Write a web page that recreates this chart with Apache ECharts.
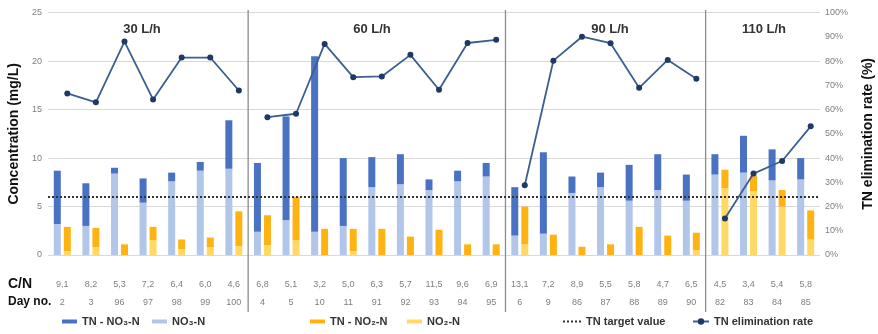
<!DOCTYPE html>
<html>
<head>
<meta charset="utf-8">
<script src="https://cdn.jsdelivr.net/npm/echarts@6/dist/echarts.min.js"></script>
<style>html,body{margin:0;padding:0;background:#fff}#c{width:878px;height:334px}</style>
</head>
<body>
<div id="c"></div>
<script>
// ---- data ----
const days = ['2','3','96','97','98','99','100','4','5','10','11','91','92','93','94','95','6','9','86','87','88','89','90','82','83','84','85'];
const cnRatio = ['9,1','8,2','5,3','7,2','6,4','6,0','4,6','6,8','5,1','3,2','5,0','6,3','5,7','11,5','9,6','6,9','13,1','7,2','8,9','5,5','5,8','4,7','6,5','4,5','3,4','5,4','5,8'];
const section = [0,0,0,0,0,0,0,1,1,1,1,1,1,1,1,1,2,2,2,2,2,2,2,3,3,3,3];
const sectionNames = ['30 L/h','60 L/h','90 L/h','110 L/h'];
const no3 = [3.2,3.0,8.4,5.4,7.6,8.7,8.9,2.4,3.6,2.4,3.0,7.0,7.3,6.7,7.6,8.1,2.0,2.2,6.4,7.0,5.6,6.7,5.6,8.3,8.5,7.7,7.8];
const tnMinusNo3 = [5.5,4.4,0.6,2.5,0.9,0.9,5.0,7.1,10.7,18.1,7.0,3.1,3.1,1.1,1.1,1.4,5.0,8.4,1.7,1.5,3.7,3.7,2.7,2.1,3.8,3.2,2.2];
const no2 = [0.4,0.8,0,1.5,0.6,0.8,0.9,1.0,1.5,0,0.4,0,0,0,0,0,1.1,0,0,0,0,0,0.5,6.9,6.6,5.0,1.6];
const tnMinusNo2 = [2.5,2.0,1.1,1.4,1.0,1.0,3.6,3.1,4.5,2.7,2.3,2.7,1.9,2.6,1.1,1.1,3.9,2.1,0.85,1.1,2.9,2.0,1.8,1.9,1.6,1.7,3.0];
const elimRate = [66.7,63.0,88.1,64.2,81.5,81.5,67.9,56.9,58.3,87.1,73.4,73.7,82.6,68.2,87.5,88.8,28.8,80.2,90.1,87.4,69.0,80.5,72.7,15.1,33.6,38.8,53.1];
const tnTarget = 6;

const C_DARKBLUE = '#4a72c2', C_LIGHTBLUE = '#b2c6e9', C_ORANGE = '#ffb312', C_YELLOW = '#ffd966';
const C_LINE = '#3b5f8f', C_MARK = '#1f3864';
const FONT = 'Liberation Sans';

const chart = echarts.init(document.getElementById('c'));

const rateSeries = sectionNames.map((s, k) => ({
  name: 'TN elimination rate', type: 'line', xAxisIndex: 1, yAxisIndex: 2,
  data: elimRate.map((v, i) => section[i] === k ? v : null),
  connectNulls: false, symbol: 'circle', symbolSize: 6,
  lineStyle: { color: C_LINE, width: 1.8 }, itemStyle: { color: C_MARK }, z: 5
}));

const legendText = { fontFamily: FONT, fontWeight: 'bold', fontSize: 11, color: '#333' };
function lg(left, extra) {
  return Object.assign({ left: left, top: 316, itemGap: 4, textStyle: legendText,
    itemWidth: 15, itemHeight: 4, selectedMode: false, padding: 0 }, extra || {});
}
const dotsIcon = 'path://M0,0h2v2h-2zM4,0h2v2h-2zM8,0h2v2h-2zM12,0h2v2h-2zM16,0h2v2h-2z';

const option = {
  animation: false,
  textStyle: { fontFamily: FONT },
  title: sectionNames.map((s, k) => ({
    text: s, left: [142, 372, 610, 764][k], top: 23, textAlign: 'center',
    textStyle: { fontFamily: FONT, fontWeight: 'bold', fontSize: 13, color: '#333' }, padding: 0
  })),
  grid: [
    { left: 48, right: 58, top: 12.7, bottom: 79, outerBoundsMode: 'none', containLabel: false },
    { left: 53, right: 53, top: 12.7, bottom: 79, outerBoundsMode: 'none', containLabel: false }
  ],
  legend: [
    lg(62, { data: [{ name: 'TN - NO₃-N', icon: 'rect' }] }),
    lg(152, { data: [{ name: 'NO₃-N', icon: 'rect' }] }),
    lg(310, { data: [{ name: 'TN - NO₂-N', icon: 'rect' }] }),
    lg(407, { data: [{ name: 'NO₂-N', icon: 'rect' }] }),
    lg(563, { data: [{ name: 'TN target value', icon: dotsIcon }], itemWidth: 18, itemHeight: 2, itemStyle: { color: '#333' } }),
    lg(692, { data: ['TN elimination rate'], itemWidth: 16, itemHeight: 8 })
  ],
  xAxis: [
    { type: 'category', gridIndex: 0, data: days, axisLine: { show: false }, axisTick: { show: false },
      axisLabel: { interval: 0, margin: 21, color: '#7f7f7f', fontSize: 9, lineHeight: 18,
        formatter: (v, i) => cnRatio[i] + '\n' + v } },
    { type: 'category', gridIndex: 1, data: days, show: false }
  ],
  yAxis: [
    { type: 'value', gridIndex: 0, min: 0, max: 25, interval: 5, position: 'left',
      axisLine: { show: false }, axisTick: { show: false },
      axisLabel: { color: '#7f7f7f', fontSize: 9, margin: 6 },
      splitLine: { lineStyle: { color: '#d9d9d9', width: 1 } },
      name: 'Concentration (mg/L)', nameLocation: 'middle', nameGap: 24, nameRotate: 90,
      nameTextStyle: { fontFamily: FONT, fontWeight: 'bold', fontSize: 14, color: '#111' } },
    { type: 'value', gridIndex: 0, min: 0, max: 100, interval: 10, position: 'right',
      axisLine: { show: false }, axisTick: { show: false }, splitLine: { show: false },
      axisLabel: { color: '#7f7f7f', fontSize: 9, margin: 5, formatter: '{value}%' },
      name: 'TN elimination rate (%)', nameLocation: 'middle', nameGap: 41, nameRotate: 90,
      nameTextStyle: { fontFamily: FONT, fontWeight: 'bold', fontSize: 14, color: '#111' } },
    { type: 'value', gridIndex: 1, min: 0, max: 100, show: false }
  ],
  series: [
    { name: 'NO₃-N', type: 'bar', stack: 'n3', data: no3, barWidth: 7, barGap: '43%',
      itemStyle: { color: C_LIGHTBLUE } },
    { name: 'TN - NO₃-N', type: 'bar', stack: 'n3', data: tnMinusNo3, barWidth: 7,
      itemStyle: { color: C_DARKBLUE } },
    { name: 'NO₂-N', type: 'bar', stack: 'n2', data: no2, barWidth: 7,
      itemStyle: { color: C_YELLOW } },
    { name: 'TN - NO₂-N', type: 'bar', stack: 'n2', data: tnMinusNo2, barWidth: 7,
      itemStyle: { color: C_ORANGE } },
    { name: 'TN target value', type: 'line', data: [], symbol: 'none',
      lineStyle: { color: '#333', width: 2, type: [2, 2] }, itemStyle: { color: '#333' },
      markLine: { silent: true, symbol: 'none', label: { show: false },
        lineStyle: { color: '#333', width: 2, type: [2, 2] }, data: [{ yAxis: tnTarget }] }, z: 4 }
  ].concat(rateSeries)
};
chart.setOption(option);

// section separators and row labels
const bounds = [];
for (let i = 0; i < section.length - 1; i++) {
  if (section[i] !== section[i + 1]) {
    const a = chart.convertToPixel({ xAxisIndex: 0 }, days[i]);
    const b = chart.convertToPixel({ xAxisIndex: 0 }, days[i + 1]);
    bounds.push((a + b) / 2);
  }
}
const graphics = bounds.map(x => ({
  type: 'line', shape: { x1: x, y1: 10, x2: x, y2: 312 },
  style: { stroke: '#8c8c8c', lineWidth: 1.3 }, silent: true
}));
graphics.push({ type: 'text', left: 8, top: 277, style: { text: 'C/N', font: 'bold 14px ' + FONT, fill: '#111' } });
graphics.push({ type: 'text', left: 8, top: 296, style: { text: 'Day no.', font: 'bold 12px ' + FONT, fill: '#111' } });
chart.setOption({ graphic: graphics });
</script>
</body>
</html>
